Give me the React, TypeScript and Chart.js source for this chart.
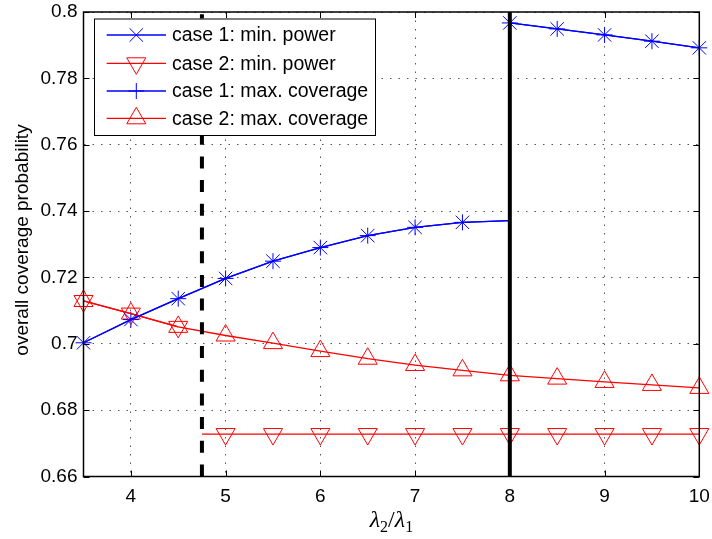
import React, { useEffect, useRef } from "react";
import { Chart, registerables } from "chart.js";

Chart.register(...registerables);

// ---- data ----
const case1LowerX = [3.5, 4, 4.5, 5, 5.5, 6, 6.5, 7, 7.5, 8];
const case1Lower = [0.7003, 0.7073, 0.7136, 0.7197, 0.7249, 0.729, 0.7326, 0.7351, 0.7366, 0.7371];
const case1LowerMarker = [true, true, true, true, true, true, true, true, true, false];
const case1UpperX = [8, 8.5, 9, 9.5, 10];
const case1Upper = [0.7967, 0.7949, 0.7931, 0.7912, 0.7892];

const case2MaxCovX = [3.5, 4, 4.5, 5, 5.5, 6, 6.5, 7, 7.5, 8, 8.5, 9, 9.5, 10];
const case2MaxCov = [0.7129, 0.7091, 0.7051, 0.7025, 0.7002, 0.6978, 0.6955, 0.6936, 0.692, 0.6905, 0.6895, 0.6885, 0.6876, 0.6867];

const case2MinPowHighX = [3.5, 4, 4.5];
const case2MinPowHigh = [0.7129, 0.7091, 0.7051];
const case2MinPowLowX = [4.75, 5, 5.5, 6, 6.5, 7, 7.5, 8, 8.5, 9, 9.5, 10];
const case2MinPowLow = [0.6728, 0.6728, 0.6728, 0.6728, 0.6728, 0.6728, 0.6728, 0.6728, 0.6728, 0.6728, 0.6728, 0.6728];
const case2MinPowLowMarker = [false, true, true, true, true, true, true, true, true, true, true, true];

const dashedThresholdX = 4.75;
const solidThresholdX = 8;

const xTicks = [4, 5, 6, 7, 8, 9, 10];
const yTicks = [0.66, 0.68, 0.7, 0.72, 0.74, 0.76, 0.78, 0.8];
const yTickLabels = ["0.66", "0.68", "0.7", "0.72", "0.74", "0.76", "0.78", "0.8"];

const legendLabels = [
  "case 1: min. power",
  "case 2: min. power",
  "case 1: max. coverage",
  "case 2: max. coverage",
];
const yTitle = "overall coverage probability";

const X_MIN = 3.5, X_MAX = 10, Y_MIN = 0.66, Y_MAX = 0.8;
const BLUE = "#0000ff";
const RED = "#ff0000";
const SANS = '"Liberation Sans", Arial, Helvetica, sans-serif';
const SERIF = '"Liberation Serif", "Times New Roman", serif';

type P = { x: number; y: number | null; m?: boolean };

function pts(xs: number[], ys: number[], marks?: boolean[]): P[] {
  return xs.map((x, i) => ({ x, y: ys[i], m: marks ? marks[i] : true }));
}

function drawMarker(ctx: CanvasRenderingContext2D, style: string, x: number, y: number, r: number, rot = 0) {
  ctx.beginPath();
  if (style === "cross") {
    ctx.moveTo(x - r, y); ctx.lineTo(x + r, y);
    ctx.moveTo(x, y - r); ctx.lineTo(x, y + r);
  } else if (style === "crossRot") {
    const o = Math.cos(Math.PI / 4) * r;
    ctx.moveTo(x - o, y - o); ctx.lineTo(x + o, y + o);
    ctx.moveTo(x - o, y + o); ctx.lineTo(x + o, y - o);
  } else if (style === "triangle") {
    let rad = (rot * Math.PI) / 180;
    ctx.moveTo(x + Math.sin(rad) * r, y - Math.cos(rad) * r);
    rad += (2 * Math.PI) / 3;
    ctx.lineTo(x + Math.sin(rad) * r, y - Math.cos(rad) * r);
    rad += (2 * Math.PI) / 3;
    ctx.lineTo(x + Math.sin(rad) * r, y - Math.cos(rad) * r);
    ctx.closePath();
  }
  ctx.stroke();
}

const TRI_R = 11;
const CROSS_R = 8;
const XROT_R = 9.5;

const framePlugin = {
  id: "matlabFrame",
  afterDraw(chart: any) {
    const ctx: CanvasRenderingContext2D = chart.ctx;
    const a = chart.chartArea;
    const xs = chart.scales.x;
    const ys = chart.scales.y;
    ctx.save();
    // box
    ctx.strokeStyle = "#000";
    ctx.lineWidth = 1.5;
    ctx.strokeRect(a.left, a.top, a.right - a.left, a.bottom - a.top);
    // inward ticks
    ctx.lineWidth = 1;
    ctx.beginPath();
    const tl = 6;
    xTicks.forEach((v) => {
      const px = Math.round(xs.getPixelForValue(v)) + 0.5;
      ctx.moveTo(px, a.bottom); ctx.lineTo(px, a.bottom - tl);
      ctx.moveTo(px, a.top); ctx.lineTo(px, a.top + tl);
    });
    yTicks.forEach((v) => {
      const py = Math.round(ys.getPixelForValue(v)) + 0.5;
      ctx.moveTo(a.left, py); ctx.lineTo(a.left + tl, py);
      ctx.moveTo(a.right, py); ctx.lineTo(a.right - tl, py);
    });
    ctx.stroke();

    // legend
    const lx = 94, ly = 18.5, lw = 281, lh = 116.5;
    ctx.fillStyle = "#fff";
    ctx.fillRect(lx, ly, lw, lh);
    ctx.strokeStyle = "#000";
    ctx.lineWidth = 1;
    ctx.strokeRect(lx + 0.5, ly + 0.5, lw, lh);
    const rows = [35, 63.3, 91, 118.3];
    const styles = [
      { c: BLUE, s: "crossRot", r: XROT_R, rot: 0 },
      { c: RED, s: "triangle", r: TRI_R, rot: 180 },
      { c: BLUE, s: "cross", r: CROSS_R, rot: 0 },
      { c: RED, s: "triangle", r: TRI_R, rot: 0 },
    ];
    rows.forEach((ry, i) => {
      const st = styles[i];
      ctx.strokeStyle = st.c;
      ctx.lineWidth = 1.3;
      ctx.beginPath();
      ctx.moveTo(106.7, ry); ctx.lineTo(166, ry);
      ctx.stroke();
      ctx.lineWidth = 1;
      drawMarker(ctx, st.s, 136.3, ry, st.r, st.rot);
      ctx.fillStyle = "#000";
      ctx.font = `19.5px ${SANS}`;
      ctx.textAlign = "left";
      ctx.textBaseline = "middle";
      ctx.fillText(legendLabels[i], 172, ry + 1);
    });

    // y title
    ctx.save();
    ctx.translate(23, 240);
    ctx.rotate(-Math.PI / 2);
    ctx.font = `19px ${SANS}`;
    ctx.textAlign = "center";
    ctx.textBaseline = "middle";
    ctx.fillStyle = "#000";
    ctx.fillText(yTitle, 0, 0);
    ctx.restore();

    // x title: lambda_2 / lambda_1
    const big = `italic 24px ${SERIF}`;
    const sub = `16px ${SERIF}`;
    const slash = `24px ${SERIF}`;
    const parts = [
      { t: "λ", f: big, dy: 0 },
      { t: "2", f: sub, dy: 5 },
      { t: "/", f: slash, dy: 0 },
      { t: "λ", f: big, dy: 0 },
      { t: "1", f: sub, dy: 5 },
    ];
    let total = 0;
    const widths = parts.map((p) => {
      ctx.font = p.f;
      const w = ctx.measureText(p.t).width;
      total += w;
      return w;
    });
    let cx = (a.left + a.right) / 2 - total / 2;
    const base = 527;
    ctx.textAlign = "left";
    ctx.textBaseline = "alphabetic";
    ctx.fillStyle = "#000";
    parts.forEach((p, i) => {
      ctx.font = p.f;
      ctx.fillText(p.t, cx, base + p.dy);
      cx += widths[i];
    });
    ctx.restore();
  },
};

function lineDataset(label: string, data: P[], color: string, style: string, r: number, rot = 0) {
  return {
    label,
    data,
    borderColor: color,
    backgroundColor: "rgba(0,0,0,0)",
    borderWidth: 1.3,
    pointStyle: style,
    pointRotation: rot,
    pointRadius: data.map((p) => (p.m ? r : 0)),
    pointHoverRadius: data.map((p) => (p.m ? r : 0)),
    pointBorderColor: color,
    pointBackgroundColor: "rgba(0,0,0,0)",
    pointBorderWidth: 1,
    tension: 0,
    spanGaps: false,
    clip: false as any,
    order: 2,
  };
}

export default function App() {
  const ref = useRef<HTMLCanvasElement | null>(null);
  useEffect(() => {
    if (!ref.current) return;
    const case1 = [
      ...pts(case1LowerX, case1Lower, case1LowerMarker),
      { x: 8, y: null, m: false },
      ...pts(case1UpperX, case1Upper),
    ];
    const case2Min = [
      ...pts(case2MinPowHighX, case2MinPowHigh),
      { x: 4.6, y: null, m: false },
      ...pts(case2MinPowLowX, case2MinPowLow, case2MinPowLowMarker),
    ];
    const chart = new Chart(ref.current, {
      type: "line",
      data: {
        datasets: [
          {
            label: "dashed threshold",
            data: [{ x: dashedThresholdX, y: Y_MIN }, { x: dashedThresholdX, y: Y_MAX }],
            borderColor: "#000",
            borderWidth: 4,
            borderDash: [12, 11.7],
            pointRadius: 0,
            borderCapStyle: "butt",
            order: 0,
          } as any,
          {
            label: "solid threshold",
            data: [{ x: solidThresholdX, y: Y_MIN }, { x: solidThresholdX, y: Y_MAX }],
            borderColor: "#000",
            borderWidth: 4,
            pointRadius: 0,
            order: 0,
          } as any,
          lineDataset(legendLabels[0], case1, BLUE, "crossRot", XROT_R),
          lineDataset(legendLabels[1], case2Min, RED, "triangle", TRI_R, 180),
          lineDataset(legendLabels[2], case1, BLUE, "cross", CROSS_R),
          lineDataset(legendLabels[3], pts(case2MaxCovX, case2MaxCov), RED, "triangle", TRI_R),
        ] as any,
      },
      options: {
        responsive: false,
        animation: false,
        devicePixelRatio: 1,
        layout: { padding: { top: 11.5, right: 12.7, left: 0, bottom: 0 } },
        plugins: { legend: { display: false }, tooltip: { enabled: false } },
        events: [],
        scales: {
          x: {
            type: "linear",
            min: X_MIN,
            max: X_MAX,
            afterBuildTicks: (s: any) => {
              s.ticks = xTicks.map((v) => ({ value: v }));
            },
            afterFit: (s: any) => {
              s.height = 62.5;
              s.paddingLeft = 0;
              s.paddingRight = 0;
            },
            ticks: {
              autoSkip: false,
              maxRotation: 0,
              padding: 9,
              color: "#000",
              font: { family: SANS, size: 19 },
              callback: (v: any) => String(v),
            },
            grid: { color: "#555", lineWidth: 1, drawTicks: false },
            border: { display: false, dash: [1.5, 7] },
          },
          y: {
            type: "linear",
            min: Y_MIN,
            max: Y_MAX,
            afterBuildTicks: (s: any) => {
              s.ticks = yTicks.map((v) => ({ value: v }));
            },
            afterFit: (s: any) => {
              s.width = 83.5;
              s.paddingTop = 0;
              s.paddingBottom = 0;
            },
            ticks: {
              autoSkip: false,
              padding: 6,
              color: "#000",
              font: { family: SANS, size: 19 },
              callback: (_v: any, i: number) => yTickLabels[i],
            },
            grid: { color: "#555", lineWidth: 1, drawTicks: false },
            border: { display: false, dash: [1.5, 7] },
          },
        },
      } as any,
      plugins: [framePlugin],
    });
    return () => chart.destroy();
  }, []);

  return (
    <div style={{ position: "fixed", left: 0, top: 0, width: 712, height: 539, background: "#fff" }}>
      <canvas ref={ref} width={712} height={539} style={{ display: "block", width: 712, height: 539 }} />
    </div>
  );
}
